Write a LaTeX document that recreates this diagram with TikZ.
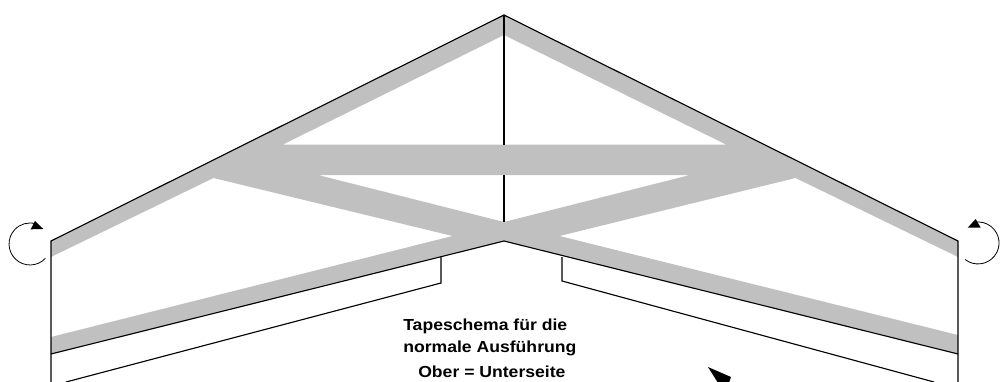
\documentclass[tikz,border=0pt]{standalone}
\usepackage{fontspec}
\setmainfont{Liberation Sans}
\definecolor{tapegrey}{RGB}{192,192,192}
\tikzset{
tapeline/.style={draw=black,line width=0.85pt},
turnarrow/.style={draw=black,line width=0.6pt},
tapetext/.style={font=\bfseries\fontsize{12}{14}\selectfont,anchor=base west,inner sep=0pt,xscale=1.1}
}
\begin{document}
\begin{tikzpicture}[x=0.75pt,y=-0.75pt]
\useasboundingbox (0,0) rectangle (1000,382);
\clip (0,0) rectangle (1000,382);
\coordinate (apex) at (504,15);
\coordinate (eaveL) at (51,241);
\coordinate (eaveR) at (958,241);
\coordinate (ridge) at (504,241);
\coordinate (lowL) at (51,354);
\coordinate (lowR) at (958,354);
\coordinate (footL) at (51,382);
\coordinate (footR) at (958,382);
% tape
\fill[tapegrey,even odd rule] (apex) -- (eaveR) -- (958,257) -- (795.5,178) -- (559.5,236) -- (958,335)
 -- (lowR) -- (ridge) -- (lowL) -- (51,337) -- (452.5,236) -- (213.5,178) -- (51,257) -- (eaveL) -- cycle
 (504,35) -- (726,144.5) -- (283,144.5) -- cycle
 (318,175) -- (690,175) -- (504,222) -- cycle;
% outline
\draw[tapeline] (footL) -- (eaveL) -- (apex) -- (eaveR) -- (footR);
\draw[tapeline] (lowL) -- (ridge) -- (lowR);
\draw[tapeline] (apex) -- (504,144.5);
\draw[tapeline] (504,175) -- (504,222);
% inner panels
\draw[tapeline] (441,257) -- (441,283) -- (66,382);
\draw[tapeline] (562,257) -- (562,281) -- (934,382);
% turn arrows
\draw[turnarrow] (45.4,258.3) arc[start angle=43,end angle=285,radius=21];
\fill (43.3,229) -- (30.7,229.3) -- (35,221) -- cycle;
\draw[turnarrow] (965.1,259.5) arc[start angle=128,end angle=-100,radius=21];
\fill (967.7,227.7) -- (980.7,227.7) -- (975.7,219) -- cycle;
% text
\node[tapetext] (titleA) at (403,330.5) {Tapeschema für die};
\node[tapetext] (titleB) at (403,352) {normale Ausführung};
\node[tapetext] (titleC) at (418,377) {Ober = Unterseite};
\fill (708,367) -- (731,377) -- (725,394) -- cycle;
\end{tikzpicture}
\end{document}
